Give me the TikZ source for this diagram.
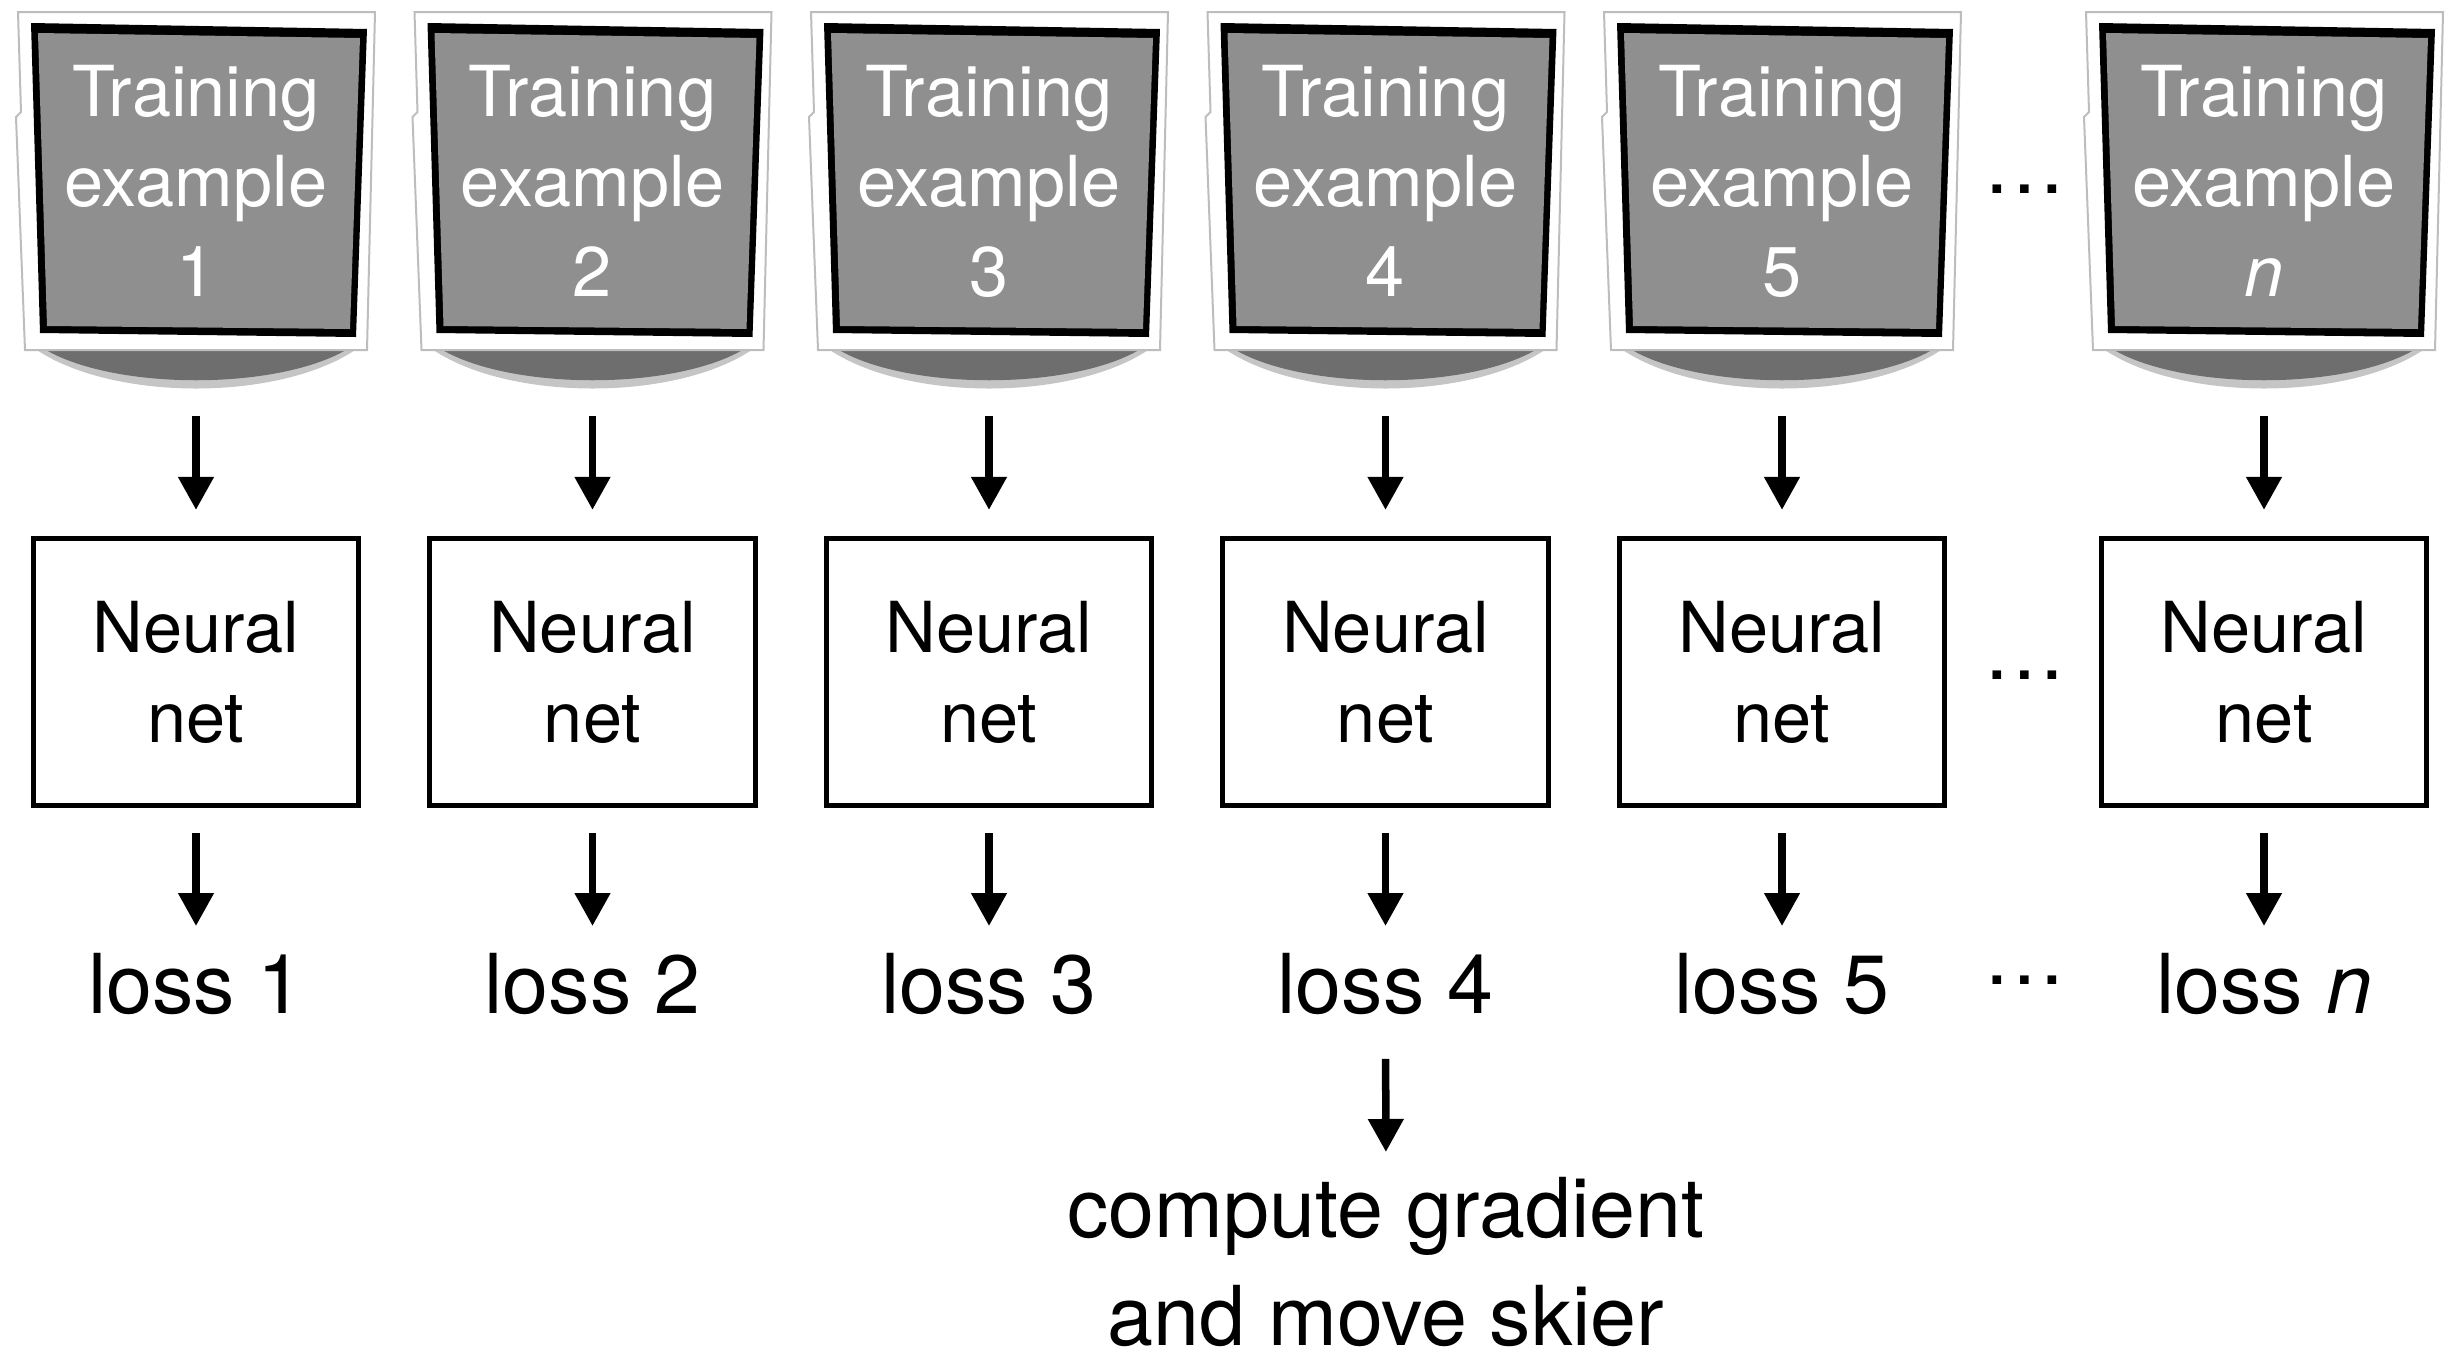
\documentclass[tikz,border=0pt]{standalone}
\usepackage{fontspec}
\setmainfont{TeX Gyre Heros}
\usetikzlibrary{arrows.meta}
\definecolor{cardgray}{HTML}{8F8F8F}
\definecolor{framegray}{HTML}{BDBDBD}
\definecolor{shadowgray}{HTML}{6E6E6E}
\tikzset{
  cardtext/.style={text=white, align=center, font=\fontsize{20}{25.6}\selectfont, inner sep=0pt},
  netbox/.style={draw=black, line width=0.05cm, minimum width=3.25cm, minimum height=2.67cm, align=center, font=\fontsize{20}{25.6}\selectfont, inner sep=0pt},
  losstext/.style={font=\fontsize{23.5}{30.7}\selectfont, inner sep=0pt, anchor=base},
  gradtext/.style={font=\fontsize{23.5}{30.7}\selectfont, inner sep=0pt, align=center, anchor=north},
  dotstext/.style={font=\fontsize{23.5}{30}\selectfont, inner sep=0pt, anchor=base},
  flow/.style={line width=0.075cm, -{Triangle[width=0.34cm,length=0.33cm]}},
}
\begin{document}
\begin{tikzpicture}[x=0.01cm, y=-0.01cm]
\useasboundingbox (0,0) rectangle (2457,1351);
\foreach \i/\cx/\lab in {1/196/1,2/592.5/2,3/989/3,4/1385.5/4,5/1782/5,6/2264/\textit{n}} {
  \fill[shadowgray, opacity=0.4] ({\cx-170},342) .. controls ({\cx-95},404) and ({\cx+95},404) .. ({\cx+170},342) -- cycle;
  \fill[shadowgray] ({\cx-158},345) .. controls ({\cx-90},392) and ({\cx+90},392) .. ({\cx+158},345) -- cycle;
  \filldraw[fill=white, draw=framegray, line width=0.02cm] ({\cx-178},12) -- ({\cx+179},12) -- ({\cx+171},350) -- ({\cx-171},350) -- ({\cx-180},117) -- ({\cx-175},112) -- cycle;
  \fill[black] ({\cx-165},23) -- ({\cx+171},29) -- ({\cx+160},337) -- ({\cx-156},333) -- cycle;
  \fill[cardgray] ({\cx-158},33) -- ({\cx+164},38) -- ({\cx+154},329) -- ({\cx-149},326) -- cycle;
  \node[cardtext, minimum width=3.57cm, minimum height=3.38cm] (card\i) at (\cx,181) {Training\\example\\\lab};
  \node[netbox] (net\i) at (\cx,672) {Neural\\net};
  \node[losstext] (loss\i) at (\cx,1013) {loss \lab};
  \draw[flow, shorten <=0.65cm, shorten >=0.26cm] (card\i.south) -- (net\i.north);
  \draw[flow, shorten <=0.25cm, shorten >=0.26cm] (net\i.south) -- (loss\i.north);
}
\node[gradtext] (grad) at (1386,1177) {compute gradient\\and move skier};
\draw[flow, shorten <=0.44cm, shorten >=0.25cm] (loss4.south) -- (grad.north);
\node[dotstext] (dotsA) at (2025,193) {…};
\node[dotstext] (dotsB) at (2025,679) {…};
\node[dotstext] (dotsC) at (2025,984) {…};
\end{tikzpicture}
\end{document}
